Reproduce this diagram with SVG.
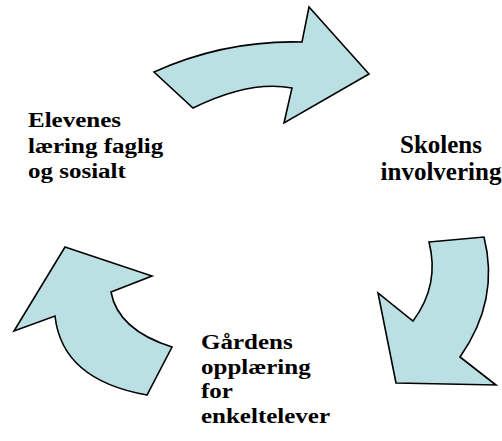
<svg xmlns="http://www.w3.org/2000/svg" width="502" height="441" viewBox="0 0 502 441">
<style>
.arrow{fill:#BAE0E4;stroke:#000;stroke-width:1.6;stroke-linejoin:miter}
text{font-family:'Liberation Serif','Times New Roman',serif;font-weight:700;font-size:25px;fill:#000}
</style>
<rect width="502" height="441" fill="#fff"/>
<g id="connectors">
<path id="arrow-top" class="arrow" d="M154,72 Q225,40 302,42 L309,7 L369,74 L284,123 L292,88 Q250,80 193,108 Z"/>
<path id="arrow-right" class="arrow" d="M429,242 L484,237 Q500,300 460,357 L496,385 L396,383 L378,293 L413,321 Q440,285 429,242 Z"/>
<path id="arrow-left" class="arrow" d="M65,247 L152,276 L111,292 Q118,330 172,347 L147,395 Q62,380 55,316 L14,331 Z"/>
</g>
<g id="node-elevenes">
<text transform="translate(28,127.3) scale(1,0.86)">Elevenes</text>
<text transform="translate(28,152.5) scale(1,0.86)">læring faglig</text>
<text transform="translate(28,177.5) scale(1,0.86)">og sosialt</text>
</g>
<g id="node-skolens">
<text x="441" y="153.3" text-anchor="middle">Skolens</text>
<text x="441" y="180" text-anchor="middle">involvering</text>
</g>
<g id="node-gardens">
<text transform="translate(201,349.3) scale(1,0.86)">Gårdens</text>
<text transform="translate(201,373.5) scale(1,0.86)">opplæring</text>
<text transform="translate(201,397.7) scale(1,0.86)">for</text>
<text transform="translate(201,422.7) scale(1,0.86)">enkeltelever</text>
</g>
</svg>
